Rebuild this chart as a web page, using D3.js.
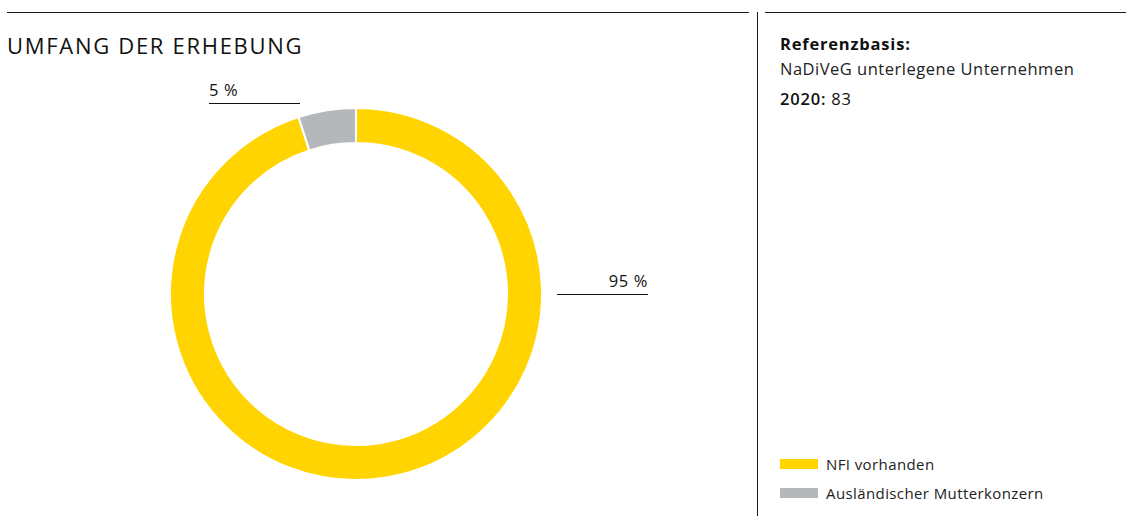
<!DOCTYPE html>
<html>
<head>
<meta charset="utf-8">
<script src="https://cdn.jsdelivr.net/npm/d3@7"></script>
<style>
  html, body { margin: 0; padding: 0; background: #fff; }
  svg { display: block; font-family: "Open Sans", "Noto Sans", sans-serif; }
</style>
</head>
<body>
<svg id="chart" width="1126" height="516"></svg>
<script>
// Survey scope: share of companies
const categories = ["NFI vorhanden", "Ausländischer Mutterkonzern"];
const values = [95, 5];
const colors = ["#FFD400", "#B5B8BA"];
const valueLabels = ["95 %", "5 %"];

const title = "UMFANG DER ERHEBUNG";
const infoHead = "Referenzbasis:";
const infoLine = "NaDiVeG unterlegene Unternehmen";
const infoYear = "2020:";
const infoCount = "83";

const svg = d3.select("#chart");

// frame lines
svg.append("line").attr("x1", 7).attr("x2", 749).attr("y1", 12.5).attr("y2", 12.5)
  .attr("stroke", "#1a1a1a").attr("stroke-width", 1);
svg.append("line").attr("x1", 765).attr("x2", 1126).attr("y1", 12.5).attr("y2", 12.5)
  .attr("stroke", "#1a1a1a").attr("stroke-width", 1);
svg.append("line").attr("x1", 757.5).attr("x2", 757.5).attr("y1", 12).attr("y2", 516)
  .attr("stroke", "#1a1a1a").attr("stroke-width", 1);

// title
svg.append("text").attr("x", 7).attr("y", 54)
  .attr("font-size", 22).attr("letter-spacing", 1.7).attr("fill", "#111")
  .text(title);

// donut
const cx = 356, cy = 294, rOuter = 186, rInner = 151;
const pie = d3.pie().sort(null).value(d => d.value);
const arcs = pie(values.map((v, i) => ({ value: v, i })));
// gray slice sits just left of twelve o'clock, yellow runs clockwise from there
const arcGen = d3.arc().innerRadius(rInner).outerRadius(rOuter);
const g = svg.append("g").attr("transform", `translate(${cx},${cy})`);
g.selectAll("path").data(arcs).join("path")
  .attr("d", arcGen)
  .attr("fill", d => colors[d.data.i])
  .attr("stroke", "#fff").attr("stroke-width", 2);

// value labels with underline
const labelSpecs = [
  { i: 0, x1: 557, x2: 648, y: 294, anchor: "end" },
  { i: 1, x1: 209, x2: 300, y: 103, anchor: "start" }
];
labelSpecs.forEach(s => {
  svg.append("line").attr("x1", s.x1).attr("x2", s.x2).attr("y1", s.y + 0.5).attr("y2", s.y + 0.5)
    .attr("stroke", "#111").attr("stroke-width", 1);
  svg.append("text")
    .attr("x", s.anchor === "end" ? s.x2 : s.x1)
    .attr("y", s.y - 7)
    .attr("text-anchor", s.anchor)
    .attr("font-size", 16.5).attr("letter-spacing", 0.6).attr("fill", "#111")
    .text(valueLabels[s.i]);
});

// info panel
svg.append("text").attr("x", 780).attr("y", 50)
  .attr("font-size", 16.5).attr("letter-spacing", 0.8).attr("font-weight", 700).attr("fill", "#111").text(infoHead);
svg.append("text").attr("x", 780).attr("y", 75)
  .attr("font-size", 16.5).attr("letter-spacing", 0.5).attr("fill", "#222").text(infoLine);
const yr = svg.append("text").attr("x", 780).attr("y", 105)
  .attr("font-size", 16.5).attr("letter-spacing", 0.8).attr("fill", "#111");
yr.append("tspan").attr("font-weight", 600).text(infoYear);
yr.append("tspan").text(" " + infoCount);

// legend
const legend = svg.append("g").attr("transform", "translate(780,459)");
categories.forEach((c, i) => {
  const row = legend.append("g").attr("transform", `translate(0,${i * 29})`);
  row.append("rect").attr("width", 38).attr("height", 10).attr("fill", colors[i]);
  row.append("text").attr("x", 46).attr("y", 10.5).attr("font-size", 15)
    .attr("letter-spacing", 0.4).attr("fill", "#222").text(c);
});
</script>
</body>
</html>
